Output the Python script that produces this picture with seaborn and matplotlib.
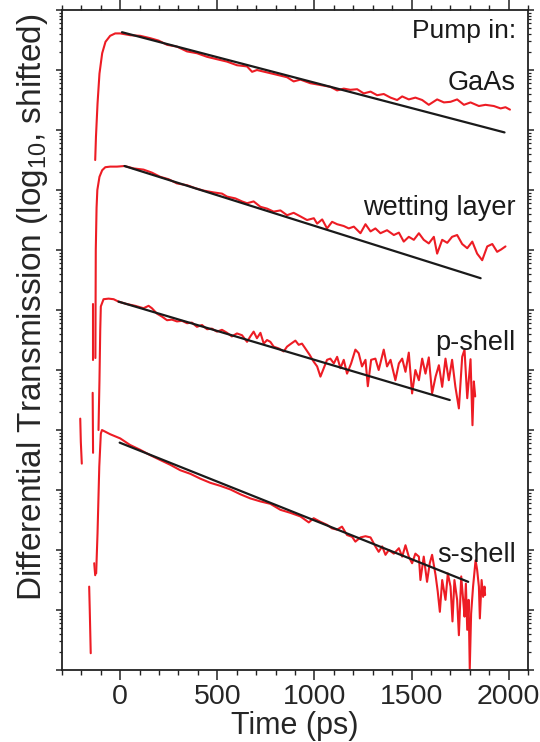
import numpy as np
import pandas as pd
import matplotlib
matplotlib.use("Agg")
import matplotlib.pyplot as plt
import seaborn as sns
from matplotlib.ticker import MultipleLocator, LogLocator, NullFormatter

# time in ps, signal as log10 value (already shifted), None = gap in the trace
gaas_t = [-129, -125, -117, -107, -93, -76, -52, -26, 0, 52, 103, 155, 198, 241, 292, 344, 395,
          447, 498, 550, 601, 653, 679, 704, 756, 808, 859, 893, 928, 979, 1031, 1082, 1117, 1151,
          1185, 1220, 1254, 1289, 1323, 1357, 1392, 1426, 1452, 1486, 1520, 1555, 1589, 1632, 1667,
          1701, 1735, 1770, 1804, 1847, 1881, 1924, 1959, 1984, 2007]
gaas_y = [8.50, 8.89, 9.44, 9.94, 10.28, 10.47, 10.57, 10.61, 10.61, 10.58, 10.57, 10.53, 10.49,
          10.42, 10.39, 10.31, 10.28, 10.22, 10.18, 10.14, 10.08, 10.06, 9.97, 10.0, 9.96, 9.92,
          9.88, 9.81, 9.84, 9.78, 9.75, 9.72, 9.66, 9.69, 9.67, 9.68, 9.61, 9.64, 9.58, 9.60, 9.54,
          9.50, 9.56, 9.51, 9.54, 9.50, 9.42, 9.51, 9.46, 9.47, 9.51, 9.42, 9.46, 9.40, 9.42, 9.40,
          9.36, 9.38, 9.34]

wet_t = [-128, -126, -122, -118, -107, -93, -77, -52, -17, 22, 69, 120, 163, 206, 249, 292, 344,
         387, 430, 481, 524, 550, 593, 627, 653, 687, 722, 756, 790, 825, 859, 893, 928, 962, 997,
         1014, 1040, 1065, 1091, 1117, 1151, 1177, 1203, 1237, 1263, 1289, 1314, 1340, 1374, 1409,
         1435, 1460, 1486, 1512, 1538, 1563, 1589, 1615, 1632, 1658, 1684, 1709, 1735, 1761, 1787,
         1813, 1838, 1864, 1890, 1916, 1941, 1962, 1984]
wet_y = [5.20, 7.00, 7.70, 8.00, 8.22, 8.33, 8.38, 8.39, 8.39, 8.40, 8.36, 8.34, 8.29, 8.22, 8.18,
         8.11, 8.08, 8.03, 7.99, 7.96, 7.94, 7.89, 7.86, 7.81, 7.78, 7.81, 7.72, 7.69, 7.64, 7.66,
         7.58, 7.62, 7.56, 7.50, 7.53, 7.44, 7.51, 7.36, 7.47, 7.43, 7.40, 7.36, 7.39, 7.28, 7.43,
         7.31, 7.36, 7.28, 7.33, 7.25, 7.29, 7.14, 7.22, 7.17, 7.28, 7.17, 7.11, 7.22, 6.94, 7.17,
         7.12, 7.22, 7.25, 7.10, 7.03, 7.14, 6.94, 6.83, 7.06, 7.10, 6.97, 7.01, 7.06]

p_t = [-139, -139, None, -142, -140, None,
       -112, -107, -103, -100, -86, -60, -34, -9, 34, 77, 120, 146, 163, 189, 215, 241, 266, 292,
       318, 344, 369, 395, 421, 447, 472, 498, 524, 550, 575, 601, 627, 653, 670, 687, 704, 722,
       739, 756, 773, 790, 816, 842, 859, 880, 902, 919, 936, 953, 976, 996, 1014, 1031, 1048,
       1065, 1082, 1100, 1117, 1134, 1151, 1168, 1189, 1211, 1228, 1245, 1263, 1275, 1292, 1314,
       1331, 1357, 1374, 1392, 1417, 1435, 1452, 1469, 1486, 1503, 1520, 1538, 1555, 1572, 1589,
       1606, 1624, 1641, 1658, 1675, 1692, 1709, 1726, 1744, 1761, 1773, 1787, 1804, 1814, 1821,
       1828]
p_y = [6.10, 5.17, None, 4.62, 3.62, None,
       4.00, 4.83, 5.67, 6.06, 6.18, 6.19, 6.18, 6.14, 6.10, 6.07, 6.03, 6.07, 6.03, 5.94, 5.89,
       5.83, 5.84, 5.81, 5.82, 5.78, 5.79, 5.72, 5.75, 5.68, 5.69, 5.64, 5.67, 5.62, 5.56, 5.61,
       5.58, 5.47, 5.56, 5.64, 5.53, 5.62, 5.44, 5.50, 5.47, 5.39, 5.36, 5.31, 5.39, 5.44, 5.49,
       5.42, 5.44, 5.36, 5.25, 5.14, 5.06, 4.89, 5.03, 5.17, 5.19, 5.11, 5.22, 5.03, 5.17, 4.94,
       5.11, 5.34, 5.28, 5.06, 5.17, 4.73, 5.17, 5.19, 5.00, 5.34, 5.06, 5.17, 4.83, 5.11, 5.19,
       4.97, 5.29, 4.61, 5.00, 4.83, 5.19, 4.94, 5.21, 4.61, 4.89, 5.08, 4.72, 5.19, 4.83, 5.17,
       4.72, 4.36, 5.22, 5.34, 4.53, 5.18, 4.08, 4.81, 4.56]

s_t = [-206, -203, -198, None, -160, -157, -152, None, -134, -129, None,
       -124, -117, -108, -100, -94, -52, 0, 51, 103, 155, 206, 258, 309, 361, 412, 464, 515, 567,
       618, 670, 722, 773, 825, 876, 928, 971, 996, 1031, 1065, 1091, 1117, 1142, 1168, 1194,
       1211, 1237, 1263, 1289, 1314, 1331, 1349, 1366, 1383, 1409, 1435, 1452, 1469, 1486, 1503,
       1520, 1538, 1546, 1563, 1580, 1594, 1606, 1624, 1635, 1646, 1658, 1675, 1687, 1701, 1711,
       1721, 1735, 1744, 1756, 1766, 1773, 1780, 1787, 1794, 1800, 1807, 1817, 1830, 1838, 1847,
       1852, 1861, 1869, 1876, 1879]
s_y = [4.19, 3.80, 3.44, None, 1.39, 1.00, 0.28, None, 1.78, 1.58, None,
       1.61, 2.28, 3.39, 3.94, 4.00, 3.93, 3.86, 3.75, 3.67, 3.58, 3.50, 3.42, 3.33, 3.27, 3.19,
       3.12, 3.07, 3.01, 2.93, 2.86, 2.81, 2.77, 2.67, 2.62, 2.56, 2.46, 2.53, 2.47, 2.42, 2.36,
       2.34, 2.39, 2.25, 2.22, 2.14, 2.21, 2.23, 2.21, 2.06, 1.97, 2.06, 1.92, 2.00, 1.94, 2.03,
       1.89, 2.08, 1.89, 1.78, 1.94, 1.89, 1.50, 1.89, 1.47, 1.78, 1.92, 1.58, 1.31, 0.97, 1.50,
       1.17, 1.61, 1.39, 0.81, 1.50, 1.17, 0.58, 1.56, 1.17, 0.89, 1.44, 0.67, 1.17, 0.02, 0.94,
       1.39, 1.83, 1.67, 1.39, 0.86, 1.50, 1.22, 1.39, 1.25]

# single exponential fits (straight lines on log axis)
fit_t = {"GaAs": [9, 1979], "wetting layer": [22, 1856], "p-shell": [-9, 1697], "s-shell": [-3, 1792]}
fit_y = {"GaAs": [10.63, 8.96], "wetting layer": [8.40, 6.53], "p-shell": [6.14, 4.50], "s-shell": [3.79, 1.47]}

labels = ["GaAs", "wetting layer", "p-shell", "s-shell"]
label_pos = [0.879, 0.689, 0.485, 0.164]

red = "#ED1C24"


def to_frame(t, y):
    rows = []
    seg = 0
    for a, b in zip(t, y):
        if a is None:
            seg += 1
            continue
        rows.append((a, 10.0 ** b, seg))
    return pd.DataFrame(rows, columns=["t", "dt", "seg"])


sns.set_style("ticks")
plt.rcParams["font.family"] = ["Liberation Sans", "DejaVu Sans"]
plt.rcParams["mathtext.default"] = "regular"

fig = plt.figure(figsize=(5.4, 7.42), dpi=100)
ax = fig.add_axes([0.1148, 0.097, 0.8630, 0.8895])

for t, y in [(gaas_t, gaas_y), (wet_t, wet_y), (p_t, p_y), (s_t, s_y)]:
    sns.lineplot(data=to_frame(t, y), x="t", y="dt", units="seg", estimator=None, sort=False,
                 color=red, lw=1.5, ax=ax, legend=False)

for name in labels:
    fit_df = pd.DataFrame({"t": fit_t[name], "dt": 10.0 ** np.array(fit_y[name])})
    sns.lineplot(data=fit_df, x="t", y="dt", color="#1a1a1a", lw=1.6, ax=ax, legend=False)

ax.set_yscale("log")
ax.set_ylim(1, 1e11)
ax.set_xlim(-300, 2100)

ax.xaxis.set_major_locator(MultipleLocator(500))
ax.xaxis.set_minor_locator(MultipleLocator(100))
ax.yaxis.set_major_locator(LogLocator(base=10, numticks=20))
ax.yaxis.set_minor_locator(LogLocator(base=10, subs=np.arange(2, 10), numticks=20))
ax.yaxis.set_major_formatter(NullFormatter())
ax.yaxis.set_minor_formatter(NullFormatter())

ax.tick_params(axis="x", which="major", direction="out", length=7, width=1.1, labelsize=20.5,
               pad=3, top=True, color="#222222")
ax.tick_params(axis="x", which="minor", direction="out", length=3.5, width=1.0, top=True,
               color="#222222")
ax.tick_params(axis="y", which="major", direction="out", length=4, width=1.1, right=True,
               color="#222222")
ax.tick_params(axis="y", which="minor", direction="out", length=2.5, width=0.9, right=True,
               color="#222222")

for side in ["left", "right", "top", "bottom"]:
    ax.spines[side].set_visible(True)
    ax.spines[side].set_linewidth(1.3)
    ax.spines[side].set_color("#222222")

ax.set_xlabel("Time (ps)", fontsize=22, labelpad=1)
ax.set_ylabel("Differential Transmission (log$_{10}$, shifted)", fontsize=24)
ax.yaxis.set_label_coords(-0.025, 0.55)

ax.text(0.974, 0.958, "Pump in:", transform=ax.transAxes, ha="right", va="baseline",
        fontsize=19, color="#1a1a1a")
for name, yp in zip(labels, label_pos):
    ax.text(0.974, yp, name, transform=ax.transAxes, ha="right", va="baseline",
            fontsize=19.5, color="#1a1a1a")

fig.savefig("out.png", dpi=100)
